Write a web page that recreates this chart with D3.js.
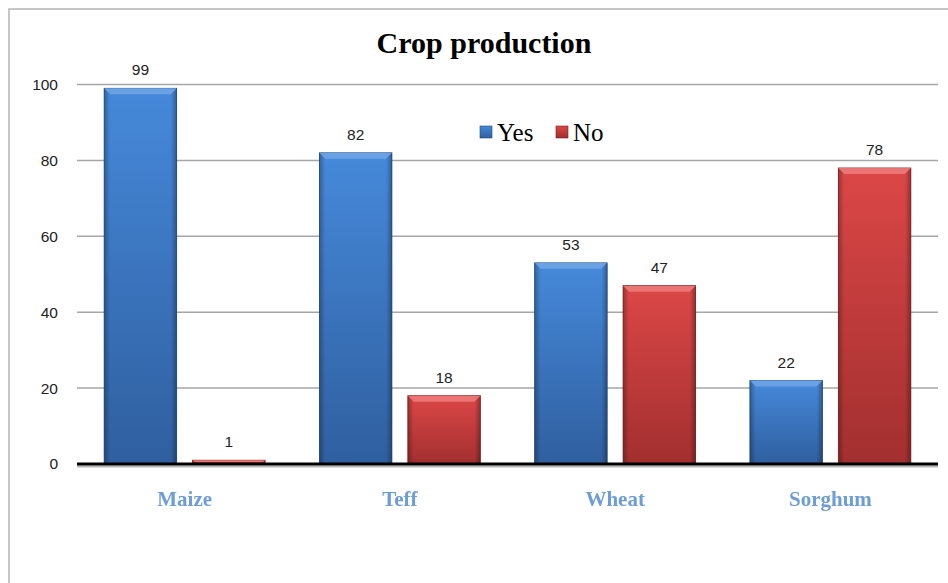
<!DOCTYPE html>
<html><head><meta charset="utf-8">
<script src="https://cdn.jsdelivr.net/npm/d3@7"></script>
<style>body{margin:0;background:#fff}svg{display:block}</style>
</head><body>
<script>
const categories = ["Maize","Teff","Wheat","Sorghum"];
const seriesNames = ["Yes","No"];
const yesValues = [99,82,53,22];
const noValues = [1,18,47,78];
const yTicks = [0,20,40,60,80,100];
const title = "Crop production";

const W=948,H=583;
const svg=d3.select("body").append("svg").attr("width",W).attr("height",H);
const defs=svg.append("defs");
const cols={Yes:{top:"#4689da",bot:"#2f5f9f",edge:"#234a7e",bevel:"#6ea4e6"},No:{top:"#dc4747",bot:"#a22f2f",edge:"#7e2020",bevel:"#ec7a7a"}};
seriesNames.forEach(s=>{
  const g=defs.append("linearGradient").attr("id","g"+s).attr("x1",0).attr("y1",0).attr("x2",0).attr("y2",1);
  g.append("stop").attr("offset","0%").attr("stop-color",cols[s].top);
  g.append("stop").attr("offset","100%").attr("stop-color",cols[s].bot);
  const h=defs.append("linearGradient").attr("id","h"+s).attr("x1",0).attr("y1",0).attr("x2",1).attr("y2",0);
  h.append("stop").attr("offset","0%").attr("stop-color","#000").attr("stop-opacity",0.28);
  h.append("stop").attr("offset","8%").attr("stop-color","#000").attr("stop-opacity",0);
  h.append("stop").attr("offset","92%").attr("stop-color","#000").attr("stop-opacity",0);
  h.append("stop").attr("offset","100%").attr("stop-color","#000").attr("stop-opacity",0.3);
});
const blur=defs.append("filter").attr("id","soft").attr("x","-10%").attr("y","-30%").attr("width","120%").attr("height","160%");
blur.append("feGaussianBlur").attr("stdDeviation",0.6);

// outer frame
svg.append("path").attr("d",`M9,${H} L9,9 L${W},9`).attr("fill","none").attr("stroke","#b4b4b4").attr("stroke-width",1.5);

const x0=77,x1=938,yTop=84.5,yBot=464;
const x=d3.scaleBand().domain(categories).range([x0,x1]).paddingInner(0).paddingOuter(0);
const xs=d3.scaleBand().domain(seriesNames).range([0,x.bandwidth()]).paddingInner(0.18).paddingOuter(0.307);
const y=d3.scaleLinear().domain([0,100]).range([yBot,yTop]);

// gridlines
svg.append("g").selectAll("line").data(yTicks.filter(d=>d>0)).join("line")
 .attr("x1",x0).attr("x2",x1).attr("y1",d=>y(d)).attr("y2",d=>y(d))
 .attr("stroke","#a6a6a6").attr("stroke-width",1.5);

// y axis labels
const yAxis=d3.axisLeft(y).tickValues(yTicks).tickSize(0).tickPadding(0);
const ya=svg.append("g").attr("transform",`translate(${x0-19},0)`).call(yAxis);
ya.select(".domain").remove();
ya.selectAll("text").attr("font-family","'Liberation Sans',Arial,sans-serif").attr("font-size",15.5).attr("fill","#222");

// bars
const data=[];
categories.forEach((c,i)=>{data.push({c,s:"Yes",v:yesValues[i]});data.push({c,s:"No",v:noValues[i]});});
const bars=svg.append("g").selectAll("g").data(data).join("g")
 .attr("transform",d=>`translate(${x(d.c)+xs(d.s)},0)`);
const bw=xs.bandwidth();
bars.append("rect").attr("x",0).attr("y",d=>y(d.v)).attr("width",bw).attr("height",d=>y(0)-y(d.v))
 .attr("fill",d=>`url(#g${d.s})`).attr("stroke",d=>cols[d.s].edge).attr("stroke-width",0.8);
bars.append("rect").attr("x",0).attr("y",d=>y(d.v)).attr("width",bw).attr("height",d=>y(0)-y(d.v))
 .attr("fill",d=>`url(#h${d.s})`);
bars.append("path").attr("d",d=>{const t=y(d.v),b=Math.min(6,(y(0)-y(d.v))/2);return `M0,${t} L${bw},${t} L${bw-b},${t+b} L${b},${t+b} Z`;})
 .attr("fill",d=>cols[d.s].bevel).attr("opacity",0.9);
bars.append("text").attr("x",bw/2).attr("y",d=>y(d.v)-13).attr("text-anchor","middle")
 .attr("font-family","'Liberation Sans',Arial,sans-serif").attr("font-size",15.5).attr("fill","#222").text(d=>d.v);

// baseline
svg.append("line").attr("x1",x0).attr("x2",x1).attr("y1",yBot+2.5).attr("y2",yBot+2.5).attr("stroke","#888").attr("stroke-width",2).attr("opacity",0.6);
svg.append("line").attr("x1",x0).attr("x2",x1).attr("y1",yBot).attr("y2",yBot).attr("stroke","#000").attr("stroke-width",3);

// x labels
const xAxis=d3.axisBottom(x).tickSize(0).tickPadding(0);
const xa=svg.append("g").attr("transform",`translate(0,${yBot+42})`).call(xAxis);
xa.select(".domain").remove();
xa.selectAll("text").attr("dy",0).attr("font-family","'Liberation Serif','Times New Roman',serif").attr("font-weight","bold")
 .attr("font-size",21).attr("fill","#6d9dd8").attr("filter","url(#soft)");

// title
svg.append("text").attr("x",484).attr("y",53).attr("text-anchor","middle")
 .attr("font-family","'Liberation Serif','Times New Roman',serif").attr("font-weight","bold").attr("font-size",30).attr("fill","#000").text(title);

// legend
const lg=svg.append("g").attr("transform","translate(480,126)");
const items=lg.selectAll("g").data(seriesNames).join("g").attr("transform",(d,i)=>`translate(${i*76},0)`);
items.append("rect").attr("width",12).attr("height",12).attr("fill",d=>`url(#g${d})`).attr("stroke",d=>cols[d].edge).attr("stroke-width",0.6);
items.append("text").attr("x",17).attr("y",15).attr("font-family","'Liberation Serif','Times New Roman',serif").attr("font-size",25).attr("fill","#000").text(d=>d);
</script>
</body></html>
